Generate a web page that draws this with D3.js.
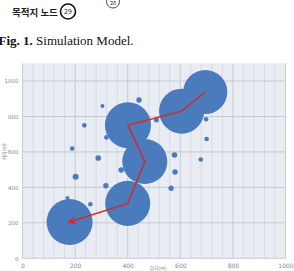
<!DOCTYPE html>
<html><head><meta charset="utf-8">
<script src="https://cdn.jsdelivr.net/npm/d3@7"></script>
<style>html,body{margin:0;padding:0;background:#fff;overflow:hidden}</style>
</head><body>
<svg id="c" width="294" height="271"></svg>
<script>
// Big nodes (route) – in path order, last one is the destination
const nodeX = [695, 605, 401, 465, 400, 179];
const nodeY = [938, 830, 751, 546, 310, 205];
const nodeSize = [92, 96, 100, 96, 96, 100];
// Small scattered nodes
const dotX = [443, 304, 235, 189, 288, 319, 509, 698, 700, 578, 678, 580, 565, 317, 375, 202, 258, 171];
const dotY = [893, 859, 750, 619, 566, 682, 780, 784, 673, 583, 557, 487, 395, 409, 498, 460, 305, 340];
const dotSize = [1.38, 0.76, 1.0, 1.0, 1.48, 1.0, 1.18, 1.0, 1.0, 1.48, 1.0, 1.38, 1.38, 1.38, 1.38, 1.7, 1.0, 0.76];
const xTicks = [0, 200, 400, 600, 800, 1000];
const yTicks = [0, 200, 400, 600, 800, 1000];
const xMinor = d3.range(0, 1001, 40);

const svg = d3.select("#c");
const x = d3.scaleLinear().domain([0, 1000]).range([22.5, 285.5]);
const y = d3.scaleLinear().domain([0, 1100]).range([258.3, 63.3]);
const r = d3.scaleSqrt().domain([0, 100]).range([0, 23]);

// header
svg.append("text").attr("x", 12).attr("y", 15.5).attr("font-family", "Noto Sans CJK KR")
  .attr("font-weight", 700).attr("font-size", 9.5).attr("fill", "#222").text("목적지 노드");
svg.append("circle").attr("cx", 68).attr("cy", 11.5).attr("r", 7.5).attr("fill", "#fff")
  .attr("stroke", "#111").attr("stroke-width", 1.6);
svg.append("text").attr("x", 68).attr("y", 14).attr("text-anchor", "middle").attr("font-family", "Noto Sans CJK KR")
  .attr("font-size", 7).attr("fill", "#111").text("29");
svg.append("circle").attr("cx", 113).attr("cy", 1.5).attr("r", 6.5).attr("fill", "#fff")
  .attr("stroke", "#333").attr("stroke-width", 0.9);
svg.append("text").attr("x", 113).attr("y", 4.5).attr("text-anchor", "middle").attr("font-family", "Noto Sans CJK KR")
  .attr("font-size", 5.5).attr("fill", "#222").text("28");

const cap = svg.append("text").attr("x", -1.5).attr("y", 45).attr("font-family", "Liberation Serif")
  .attr("font-size", 13).attr("fill", "#111");
cap.append("tspan").attr("font-weight", 700).text("Fig. 1.");
cap.append("tspan").text(" Simulation Model.");

// plot background
svg.append("rect").attr("x", x(0)).attr("y", y(1100)).attr("width", x(1000) - x(0))
  .attr("height", y(0) - y(1100)).attr("fill", "#e9edf3");
// minor vertical grid
svg.append("g").selectAll("line").data(xMinor).join("line")
  .attr("x1", d => x(d)).attr("x2", d => x(d)).attr("y1", y(1100)).attr("y2", y(0))
  .attr("stroke", d => d % 200 === 0 ? "#bcc2cb" : "#d2d7df").attr("stroke-width", 0.8);
// horizontal grid
svg.append("g").selectAll("line").data(yTicks).join("line")
  .attr("x1", x(0)).attr("x2", x(1000)).attr("y1", d => y(d)).attr("y2", d => y(d))
  .attr("stroke", "#bcc2cb").attr("stroke-width", 0.8);

// axes labels
const xAxis = d3.axisBottom(x).tickValues(xTicks).tickFormat(d3.format("d")).tickSize(0).tickPadding(5);
const gx = svg.append("g").attr("transform", `translate(0,${y(0)})`).call(xAxis);
gx.select(".domain").remove();
gx.selectAll("text").attr("font-family", "DejaVu Sans").attr("font-size", 6).attr("fill", "#8a8a8a");
const yAxis = d3.axisLeft(y).tickValues(yTicks).tickFormat(d3.format("d")).tickSize(0).tickPadding(4);
const gy = svg.append("g").attr("transform", `translate(${x(0)},0)`).call(yAxis);
gy.select(".domain").remove();
gy.selectAll("text").attr("font-family", "DejaVu Sans").attr("font-size", 5.5).attr("fill", "#8a8a8a");

svg.append("text").attr("x", 158).attr("y", 270).attr("text-anchor", "middle")
  .attr("font-family", "Noto Sans CJK KR").attr("font-size", 5).attr("fill", "#888").text("위치(m)");
svg.append("text").attr("transform", "translate(6,152) rotate(-90)").attr("text-anchor", "middle")
  .attr("font-family", "Noto Sans CJK KR").attr("font-size", 5).attr("fill", "#888").text("거리(m)");

const blue = "#4a7bbd";
// small dots
svg.append("g").selectAll("circle").data(dotX).join("circle")
  .attr("cx", (d, i) => x(d)).attr("cy", (d, i) => y(dotY[i])).attr("r", (d, i) => r(dotSize[i]))
  .attr("fill", blue);
// big nodes
svg.append("g").selectAll("circle").data(nodeX).join("circle")
  .attr("cx", (d, i) => x(d)).attr("cy", (d, i) => y(nodeY[i])).attr("r", (d, i) => r(nodeSize[i]))
  .attr("fill", blue);

// route with arrow
svg.append("defs").append("marker").attr("id", "arr").attr("viewBox", "0 0 10 10")
  .attr("refX", 8).attr("refY", 5).attr("markerWidth", 8).attr("markerHeight", 8)
  .attr("orient", "auto").attr("markerUnits", "userSpaceOnUse")
  .append("path").attr("d", "M1,1 L9,5 L1,9").attr("fill", "none")
  .attr("stroke", "#d62828").attr("stroke-width", 2).attr("stroke-linejoin", "miter");
const line = d3.line().x(d => x(d[0])).y(d => y(d[1]));
svg.append("path").datum(nodeX.map((d, i) => [d, nodeY[i]])).attr("d", line)
  .attr("fill", "none").attr("stroke", "#d62828").attr("stroke-width", 1.5)
  .attr("marker-end", "url(#arr)");
</script>
</body></html>
